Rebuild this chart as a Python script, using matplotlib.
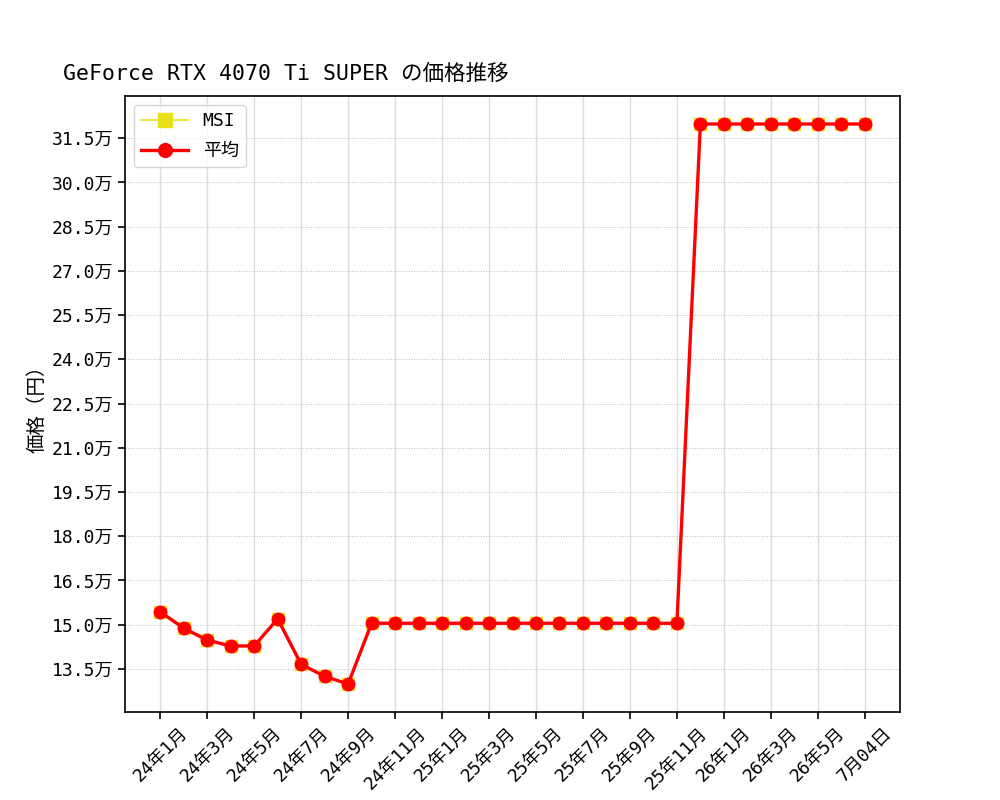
import matplotlib
matplotlib.use("Agg")
import matplotlib.pyplot as plt
from matplotlib.ticker import MultipleLocator, FuncFormatter

plt.rcParams['font.family'] = ['DejaVu Sans Mono', 'Noto Sans CJK JP']

title = "GeForce RTX 4070 Ti SUPER の価格推移"
ylabel = "価格（円）"

tick_labels = ["24年1月", "24年3月", "24年5月", "24年7月", "24年9月", "24年11月",
               "25年1月", "25年3月", "25年5月", "25年7月", "25年9月", "25年11月",
               "26年1月", "26年3月", "26年5月", "7月04日"]

msi = [154400, 148800, 144800, 142800, 142800, 152000, 136600, 132500, 129900,
       150500, 150500, 150500, 150500, 150500, 150500, 150500, 150500, 150500,
       150500, 150500, 150500, 150500, 150500,
       319800, 319800, 319800, 319800, 319800, 319800, 319800, 319800]
average = list(msi)

x = list(range(len(msi)))
tick_pos = x[::2]

fig, ax = plt.subplots(figsize=(10, 8), dpi=100)

ax.plot(x, msi, color='#e8e11a', marker='s', markersize=9, linewidth=1.2, label='MSI')
ax.plot(x, average, color='red', marker='o', markersize=9, linewidth=2.4, label='平均')

ax.set_xticks(tick_pos)
ax.set_xticklabels(tick_labels, rotation=45, fontsize=13)

ax.yaxis.set_major_locator(MultipleLocator(15000))
ax.yaxis.set_major_formatter(FuncFormatter(lambda v, p: f"{v/10000:.1f}万"))
ax.tick_params(axis='y', labelsize=13)
ax.tick_params(axis='both', length=5, width=1.2)

ax.xaxis.grid(True, color='#dcdcdc', linewidth=1.0)
ax.yaxis.grid(True, color='#bbbbbb', linestyle=':', linewidth=0.7)
ax.set_axisbelow(True)

for s in ax.spines.values():
    s.set_linewidth(1.2)

ax.set_ylabel(ylabel, fontsize=14)
fig.text(0.063, 1 - 74 / 800, title, fontsize=15.5, ha='left', va='center')

ax.legend(loc='upper left', fontsize=13, markerscale=1.1, handlelength=2.6,
          labelspacing=0.65)

fig.savefig("out.png", dpi=100)
